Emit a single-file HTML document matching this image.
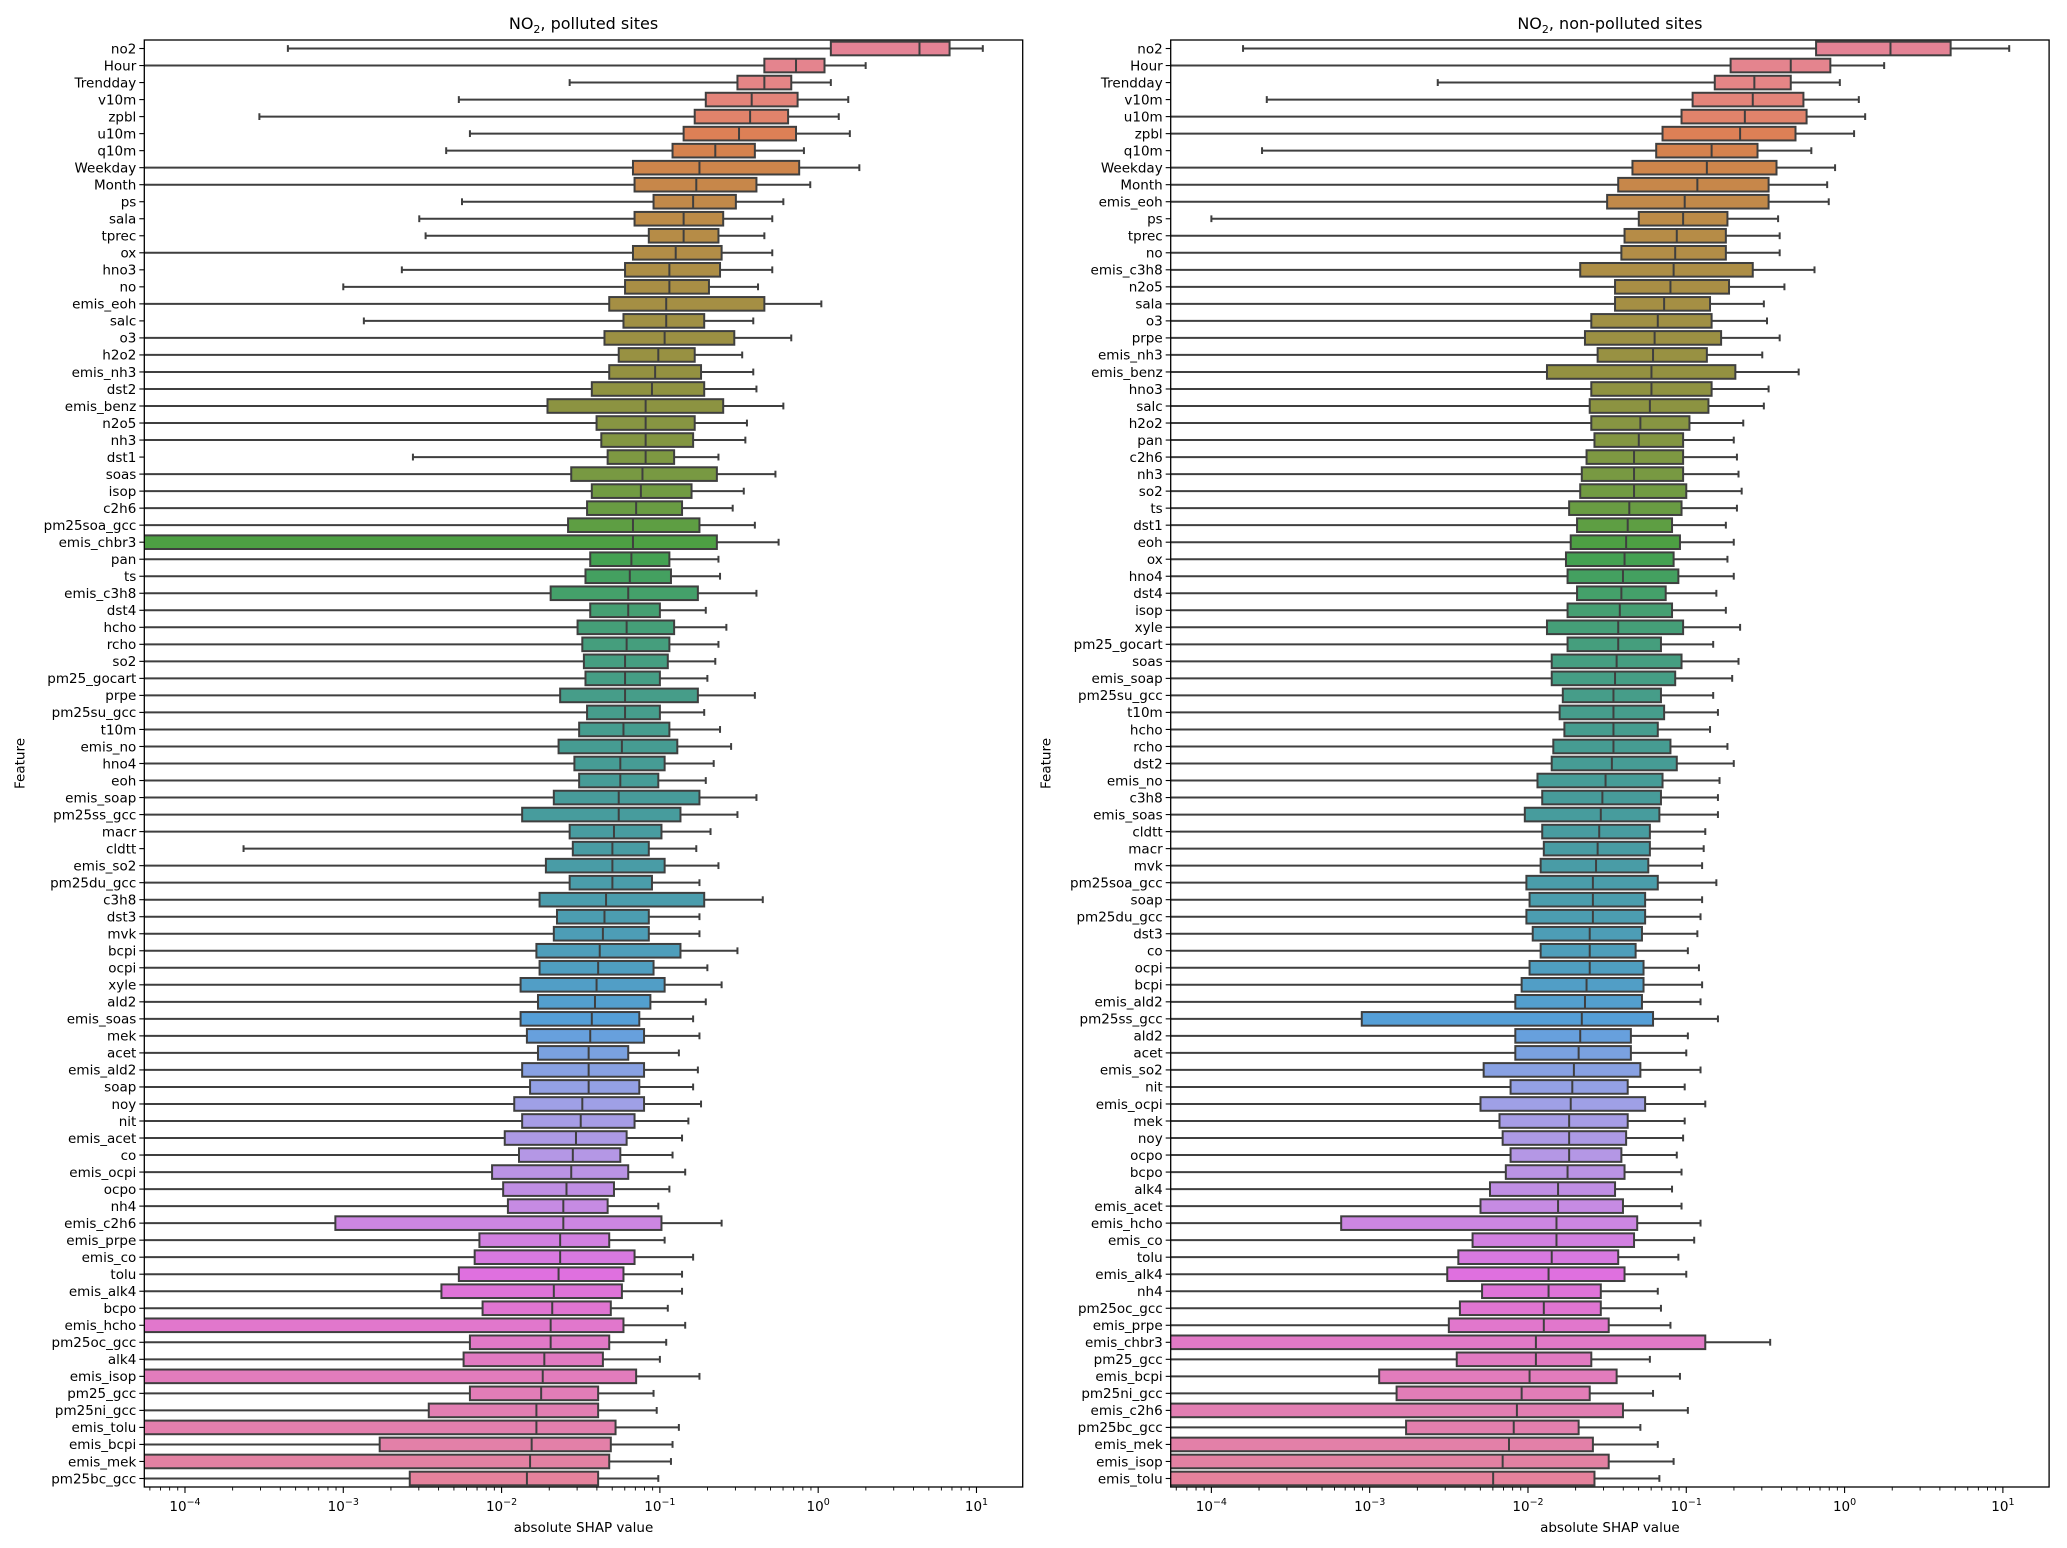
<!DOCTYPE html>
<html><head><meta charset="utf-8">
<style>
html,body{margin:0;padding:0;background:#fff;}
svg{display:block;font-family:"DejaVu Sans","Liberation Sans",sans-serif;}
</style></head>
<body>
<svg id="chart" width="2067" height="1548" viewBox="0 0 2067 1548" xmlns="http://www.w3.org/2000/svg">
<defs>
<clipPath id="clipL"><rect x="144.3" y="40" width="878.4" height="1447"/></clipPath>
<clipPath id="clipR"><rect x="1170.7" y="40" width="878.4" height="1447"/></clipPath>
</defs>
</svg>
<script>
// ---- Data (log10 of absolute SHAP value; -6 = whisker to 0, -8 = box starting at 0) ----
const polFeatures = ["no2","Hour","Trendday","v10m","zpbl","u10m","q10m","Weekday","Month","ps","sala","tprec","ox","hno3","no","emis_eoh","salc","o3","h2o2","emis_nh3","dst2","emis_benz","n2o5","nh3","dst1","soas","isop","c2h6","pm25soa_gcc","emis_chbr3","pan","ts","emis_c3h8","dst4","hcho","rcho","so2","pm25_gocart","prpe","pm25su_gcc","t10m","emis_no","hno4","eoh","emis_soap","pm25ss_gcc","macr","cldtt","emis_so2","pm25du_gcc","c3h8","dst3","mvk","bcpi","ocpi","xyle","ald2","emis_soas","mek","acet","emis_ald2","soap","noy","nit","emis_acet","co","emis_ocpi","ocpo","nh4","emis_c2h6","emis_prpe","emis_co","tolu","emis_alk4","bcpo","emis_hcho","pm25oc_gcc","alk4","emis_isop","pm25_gcc","pm25ni_gcc","emis_tolu","emis_bcpi","emis_mek","pm25bc_gcc"];
const polLow = [-3.35,-6,-1.57,-2.27,-3.53,-2.20,-2.35,-6,-6,-2.25,-2.52,-2.48,-6,-2.63,-3.00,-6,-2.87,-6,-6,-6,-6,-6,-6,-6,-2.56,-6,-6,-6,-6,-6,-6,-6,-6,-6,-6,-6,-6,-6,-6,-6,-6,-6,-6,-6,-6,-6,-6,-3.63,-6,-6,-6,-6,-6,-6,-6,-6,-6,-6,-6,-6,-6,-6,-6,-6,-6,-6,-6,-6,-6,-6,-6,-6,-6,-6,-6,-6,-6,-6,-6,-6,-6,-6,-6,-6,-6];
const polQ1 = [0.08,-0.34,-0.51,-0.71,-0.78,-0.85,-0.92,-1.17,-1.16,-1.04,-1.16,-1.07,-1.17,-1.22,-1.22,-1.32,-1.23,-1.35,-1.26,-1.32,-1.43,-1.71,-1.40,-1.37,-1.33,-1.56,-1.43,-1.46,-1.58,-8,-1.44,-1.47,-1.69,-1.44,-1.52,-1.49,-1.48,-1.47,-1.63,-1.46,-1.51,-1.64,-1.54,-1.51,-1.67,-1.87,-1.57,-1.55,-1.72,-1.57,-1.76,-1.65,-1.67,-1.78,-1.76,-1.88,-1.77,-1.88,-1.84,-1.77,-1.87,-1.82,-1.92,-1.87,-1.98,-1.89,-2.06,-1.99,-1.96,-3.05,-2.14,-2.17,-2.27,-2.38,-2.12,-8,-2.20,-2.24,-8,-2.20,-2.46,-8,-2.77,-8,-2.58];
const polMed = [0.64,-0.14,-0.34,-0.42,-0.43,-0.50,-0.65,-0.75,-0.77,-0.79,-0.85,-0.85,-0.90,-0.94,-0.94,-0.96,-0.96,-0.97,-1.01,-1.03,-1.05,-1.09,-1.09,-1.09,-1.09,-1.11,-1.12,-1.15,-1.17,-1.17,-1.18,-1.19,-1.20,-1.20,-1.21,-1.21,-1.22,-1.22,-1.22,-1.22,-1.23,-1.24,-1.25,-1.25,-1.26,-1.26,-1.29,-1.30,-1.30,-1.30,-1.34,-1.35,-1.36,-1.38,-1.39,-1.40,-1.41,-1.43,-1.44,-1.45,-1.45,-1.45,-1.49,-1.50,-1.53,-1.55,-1.56,-1.59,-1.61,-1.61,-1.63,-1.63,-1.64,-1.67,-1.68,-1.69,-1.69,-1.73,-1.74,-1.75,-1.78,-1.78,-1.81,-1.82,-1.84];
const polQ3 = [0.83,0.04,-0.17,-0.13,-0.19,-0.14,-0.40,-0.12,-0.39,-0.52,-0.60,-0.63,-0.61,-0.62,-0.69,-0.34,-0.72,-0.53,-0.78,-0.74,-0.72,-0.60,-0.78,-0.79,-0.91,-0.64,-0.80,-0.86,-0.75,-0.64,-0.94,-0.93,-0.76,-1.00,-0.91,-0.94,-0.95,-1.00,-0.76,-1.00,-0.94,-0.89,-0.97,-1.01,-0.75,-0.87,-0.99,-1.07,-0.97,-1.05,-0.72,-1.07,-1.07,-0.87,-1.04,-0.97,-1.06,-1.13,-1.10,-1.20,-1.10,-1.13,-1.10,-1.16,-1.21,-1.25,-1.20,-1.29,-1.33,-0.99,-1.32,-1.16,-1.23,-1.24,-1.31,-1.23,-1.32,-1.36,-1.15,-1.39,-1.39,-1.28,-1.31,-1.32,-1.39];
const polHigh = [1.04,0.30,0.08,0.19,0.13,0.20,-0.09,0.26,-0.05,-0.22,-0.29,-0.34,-0.29,-0.29,-0.38,0.02,-0.41,-0.17,-0.48,-0.41,-0.39,-0.22,-0.45,-0.46,-0.63,-0.27,-0.47,-0.54,-0.40,-0.25,-0.63,-0.62,-0.39,-0.71,-0.58,-0.63,-0.65,-0.70,-0.40,-0.72,-0.62,-0.55,-0.66,-0.71,-0.39,-0.51,-0.68,-0.77,-0.63,-0.75,-0.35,-0.75,-0.75,-0.51,-0.70,-0.61,-0.71,-0.79,-0.75,-0.88,-0.76,-0.79,-0.74,-0.82,-0.86,-0.92,-0.84,-0.94,-1.01,-0.61,-0.97,-0.79,-0.86,-0.86,-0.95,-0.84,-0.96,-1.00,-0.75,-1.04,-1.02,-0.88,-0.92,-0.93,-1.01];

const npFeatures = ["no2","Hour","Trendday","v10m","u10m","zpbl","q10m","Weekday","Month","emis_eoh","ps","tprec","no","emis_c3h8","n2o5","sala","o3","prpe","emis_nh3","emis_benz","hno3","salc","h2o2","pan","c2h6","nh3","so2","ts","dst1","eoh","ox","hno4","dst4","isop","xyle","pm25_gocart","soas","emis_soap","pm25su_gcc","t10m","hcho","rcho","dst2","emis_no","c3h8","emis_soas","cldtt","macr","mvk","pm25soa_gcc","soap","pm25du_gcc","dst3","co","ocpi","bcpi","emis_ald2","pm25ss_gcc","ald2","acet","emis_so2","nit","emis_ocpi","mek","noy","ocpo","bcpo","alk4","emis_acet","emis_hcho","emis_co","tolu","emis_alk4","nh4","pm25oc_gcc","emis_prpe","emis_chbr3","pm25_gcc","emis_bcpi","pm25ni_gcc","emis_c2h6","pm25bc_gcc","emis_mek","emis_isop","emis_tolu"];
const npLow = [-3.80,-6,-2.57,-3.65,-6,-6,-3.68,-6,-6,-6,-4.0,-6,-6,-6,-6,-6,-6,-6,-6,-6,-6,-6,-6,-6,-6,-6,-6,-6,-6,-6,-6,-6,-6,-6,-6,-6,-6,-6,-6,-6,-6,-6,-6,-6,-6,-6,-6,-6,-6,-6,-6,-6,-6,-6,-6,-6,-6,-6,-6,-6,-6,-6,-6,-6,-6,-6,-6,-6,-6,-6,-6,-6,-6,-6,-6,-6,-6,-6,-6,-6,-6,-6,-6,-6,-6];
const npQ1 = [-0.18,-0.72,-0.82,-0.96,-1.03,-1.15,-1.19,-1.34,-1.43,-1.50,-1.30,-1.39,-1.41,-1.67,-1.45,-1.45,-1.60,-1.64,-1.56,-1.88,-1.60,-1.61,-1.60,-1.58,-1.63,-1.66,-1.67,-1.74,-1.69,-1.73,-1.76,-1.75,-1.69,-1.75,-1.88,-1.75,-1.85,-1.85,-1.78,-1.80,-1.77,-1.84,-1.85,-1.94,-1.91,-2.02,-1.91,-1.90,-1.92,-2.01,-1.99,-2.01,-1.97,-1.92,-1.99,-2.04,-2.08,-3.05,-2.08,-2.08,-2.28,-2.11,-2.30,-2.18,-2.16,-2.11,-2.14,-2.24,-2.30,-3.18,-2.35,-2.44,-2.51,-2.29,-2.43,-2.50,-8,-2.45,-2.94,-2.83,-8,-2.77,-8,-8,-8];
const npMed = [0.29,-0.34,-0.57,-0.58,-0.63,-0.66,-0.84,-0.87,-0.93,-1.01,-1.02,-1.06,-1.07,-1.08,-1.10,-1.14,-1.18,-1.20,-1.21,-1.22,-1.22,-1.23,-1.29,-1.30,-1.33,-1.33,-1.33,-1.36,-1.37,-1.38,-1.39,-1.40,-1.41,-1.42,-1.43,-1.43,-1.44,-1.45,-1.46,-1.46,-1.46,-1.46,-1.47,-1.51,-1.53,-1.54,-1.55,-1.56,-1.57,-1.59,-1.59,-1.59,-1.61,-1.61,-1.61,-1.63,-1.64,-1.66,-1.67,-1.68,-1.71,-1.72,-1.73,-1.74,-1.74,-1.74,-1.75,-1.81,-1.81,-1.82,-1.82,-1.85,-1.87,-1.87,-1.90,-1.90,-1.95,-1.95,-1.99,-2.04,-2.07,-2.09,-2.12,-2.16,-2.22];
const npQ3 = [0.67,-0.09,-0.34,-0.26,-0.24,-0.31,-0.55,-0.43,-0.48,-0.48,-0.74,-0.75,-0.75,-0.58,-0.73,-0.85,-0.84,-0.78,-0.87,-0.69,-0.84,-0.86,-0.98,-1.02,-1.02,-1.02,-1.00,-1.03,-1.09,-1.04,-1.08,-1.05,-1.13,-1.09,-1.02,-1.16,-1.03,-1.07,-1.16,-1.14,-1.18,-1.10,-1.06,-1.15,-1.16,-1.17,-1.23,-1.23,-1.24,-1.18,-1.26,-1.26,-1.28,-1.32,-1.27,-1.27,-1.28,-1.21,-1.35,-1.35,-1.29,-1.37,-1.26,-1.37,-1.38,-1.41,-1.39,-1.45,-1.40,-1.31,-1.33,-1.43,-1.39,-1.54,-1.54,-1.49,-0.88,-1.60,-1.44,-1.61,-1.40,-1.68,-1.59,-1.49,-1.58];
const npHigh = [1.04,0.25,-0.03,0.09,0.13,0.06,-0.21,-0.06,-0.11,-0.10,-0.42,-0.41,-0.41,-0.19,-0.38,-0.51,-0.49,-0.41,-0.52,-0.29,-0.48,-0.51,-0.64,-0.70,-0.68,-0.67,-0.65,-0.68,-0.75,-0.70,-0.74,-0.70,-0.81,-0.75,-0.66,-0.83,-0.67,-0.71,-0.83,-0.80,-0.85,-0.74,-0.70,-0.79,-0.80,-0.80,-0.88,-0.89,-0.90,-0.81,-0.90,-0.91,-0.93,-0.99,-0.92,-0.90,-0.91,-0.80,-0.99,-1.00,-0.91,-1.01,-0.88,-1.01,-1.02,-1.06,-1.03,-1.09,-1.03,-0.91,-0.95,-1.05,-1.00,-1.18,-1.16,-1.10,-0.47,-1.23,-1.04,-1.21,-0.99,-1.29,-1.18,-1.08,-1.17];

const xTickExps = [-4,-3,-2,-1,0,1];

// ---- HUSL palette (seaborn husl_palette + desaturate) ----
const M=[[3.240969941904521,-1.537383177570093,-0.498610760293],[-0.96924363628087,1.87596750150772,0.041555057407175],[0.055630079696993,-0.20397695888897,1.056971514242878]];
function bounds(L){const r=[];const s1=Math.pow(L+16,3)/1560896;const s2=s1>0.0088564516?s1:L/903.2962962;
 for(const m of M){for(const t of [0,1]){const top1=(284517*m[0]-94839*m[2])*s2;const top2=(838422*m[2]+769860*m[1]+731718*m[0])*L*s2-769860*t*L;const bot=(632260*m[2]-126452*m[1])*s2+126452*t;r.push([top1/bot,top2/bot]);}}return r;}
function maxC(L,H){const hr=H/360*Math.PI*2;let mn=Infinity;for(const [s,i] of bounds(L)){const len=i/(Math.sin(hr)-s*Math.cos(hr));if(len>=0)mn=Math.min(mn,len);}return mn;}
function husl2rgb(H,S,L){const C=maxC(L,H)/100*S;const hr=H/360*Math.PI*2;const U=Math.cos(hr)*C,V=Math.sin(hr)*C;
 const vu=U/(13*L)+0.19783000664283,vv=V/(13*L)+0.46831999493879;const Y=L<=8?L/903.2962962:Math.pow((L+16)/116,3);
 const X=0-(9*Y*vu)/((vu-4)*vv-vu*vv);const Z=(9*Y-15*vv*Y-vv*X)/(3*vv);
 return M.map(m=>{const c=m[0]*X+m[1]*Y+m[2]*Z;const v=c<=0.0031308?12.92*c:1.055*Math.pow(c,1/2.4)-0.055;return Math.min(1,Math.max(0,v));});}
function rgb2hls(r,g,b){const mx=Math.max(r,g,b),mn=Math.min(r,g,b);const l=(mx+mn)/2;if(mx===mn)return[0,l,0];
 const s=l<=0.5?(mx-mn)/(mx+mn):(mx-mn)/(2-mx-mn);const rc=(mx-r)/(mx-mn),gc=(mx-g)/(mx-mn),bc=(mx-b)/(mx-mn);
 let h;if(r===mx)h=bc-gc;else if(g===mx)h=2+rc-bc;else h=4+gc-rc;h=((h/6)%1+1)%1;return[h,l,s];}
function hls2rgb(h,l,s){if(s===0)return[l,l,l];const m2=l<=0.5?l*(1+s):l+s-l*s;const m1=2*l-m2;
 const v=(hh)=>{hh=((hh%1)+1)%1;if(hh<1/6)return m1+(m2-m1)*hh*6;if(hh<0.5)return m2;if(hh<2/3)return m1+(m2-m1)*(2/3-hh)*6;return m1;};
 return[v(h+1/3),v(h),v(h-1/3)];}
function palette(n){const out=[];for(let i=0;i<n;i++){let h=(i/n+0.01)%1;const rgb=husl2rgb(h*359,0.9*99,0.65*99);
 const hls=rgb2hls(...rgb);let d=hls2rgb(hls[0],hls[1],hls[2]*0.72);
 out.push('rgb('+d.map(v=>Math.round(v*255)).join(',')+')');}return out;}

// ---- Drawing ----
const svg=document.getElementById('chart');
const NS='http://www.w3.org/2000/svg';
const XMIN=-4.257,XMAX=1.292,TOP=40,BOTTOM=1487;
function el(tag,attrs,parent){const e=document.createElementNS(NS,tag);for(const k in attrs)e.setAttribute(k,attrs[k]);(parent||svg).appendChild(e);return e;}

function drawPanel(left,feats,lo,q1,med,q3,hi,title,clip,pname){
 const W=878.4;
 const xs=v=>left+(v-XMIN)/(XMAX-XMIN)*W;
 const n=feats.length;const step=(BOTTOM-TOP)/n;
 const ys=i=>TOP+step*(i+0.5);
 const cols=palette(n);
 const LW=2;
 const g=el('g',{});
 
 
 const marks=el('g',{'clip-path':'url(#'+clip+')'},g);
 
 
 const bh=step*0.8, cap=step*0.4;
 for(let i=0;i<n;i++){
  const y=ys(i);
  const bg=el('g',{},marks);
  
  
  const xl=xs(lo[i]),x1=xs(q1[i]),xm=xs(med[i]),x3=xs(q3[i]),xh=xs(hi[i]);
  el('line',{x1:xl,x2:x1,y1:y,y2:y,stroke:'#3f3f3f','stroke-width':LW},bg);
  el('line',{x1:x3,x2:xh,y1:y,y2:y,stroke:'#3f3f3f','stroke-width':LW},bg);
  el('line',{x1:xl,x2:xl,y1:y-cap/2,y2:y+cap/2,stroke:'#3f3f3f','stroke-width':LW},bg);
  el('line',{x1:xh,x2:xh,y1:y-cap/2,y2:y+cap/2,stroke:'#3f3f3f','stroke-width':LW},bg);
  el('rect',{x:x1,y:y-bh/2,width:Math.max(0,x3-x1),height:bh,fill:cols[i],stroke:'#3f3f3f','stroke-width':LW},bg);
  el('line',{x1:xm,x2:xm,y1:y-bh/2,y2:y+bh/2,stroke:'#3f3f3f','stroke-width':LW},bg);
 }
 const fr=el('rect',{x:left,y:TOP,width:W,height:BOTTOM-TOP,fill:'none',stroke:'#000','stroke-width':1.3},g);
 
 
 const yt=el('g',{},g);
 
 
 for(let i=0;i<n;i++){
  const y=ys(i);
  el('line',{x1:left-5,x2:left,y1:y,y2:y,stroke:'#000','stroke-width':1.1},yt);
  const t=el('text',{x:left-8,y:y+4.8,'text-anchor':'end','font-size':'13.5px',fill:'#000'},yt);
  t.textContent=feats[i];
  
  
 }
 const xt=el('g',{},g);
 
 
 for(let d=-5;d<=1;d++){for(let k=2;k<=9;k++){const v=d+Math.log10(k);if(v<XMIN||v>XMAX)continue;
  el('line',{x1:xs(v),x2:xs(v),y1:BOTTOM,y2:BOTTOM+3.5,stroke:'#000','stroke-width':0.9},xt);}}
 for(const e of xTickExps){
  const x=xs(e);
  el('line',{x1:x,x2:x,y1:BOTTOM,y2:BOTTOM+6,stroke:'#000','stroke-width':1.1},xt);
  const t=el('text',{x:x,y:BOTTOM+24,'text-anchor':'middle','font-size':'13.5px',fill:'#000'},xt);
  
  
  const a=el('tspan',{},t);a.textContent='10';
  const b=el('tspan',{dy:-6,'font-size':'9.5px'},t);b.textContent=(e<0?'\u2212':'')+Math.abs(e);
 }
 const xl=el('text',{x:left+W/2,y:BOTTOM+45,'text-anchor':'middle','font-size':'13.5px',fill:'#000'},g);
 xl.textContent='absolute SHAP value';
 
 
 const yl=el('text',{x:0,y:0,'text-anchor':'middle','font-size':'13.5px',fill:'#000',transform:'translate('+(left-120)+','+((TOP+BOTTOM)/2)+') rotate(-90)'},g);
 yl.textContent='Feature';
 
 
 const tt=el('text',{x:left+W/2,y:29,'text-anchor':'middle','font-size':'16px',fill:'#000'},g);
 
 
 const s1=el('tspan',{},tt);s1.textContent='NO';
 const s2=el('tspan',{dy:4,'font-size':'11px'},tt);s2.textContent='2';
 const s3=el('tspan',{dy:-4},tt);s3.textContent=title;
}
drawPanel(144.3,polFeatures,polLow,polQ1,polMed,polQ3,polHigh,', polluted sites','clipL','polluted');
drawPanel(1170.7,npFeatures,npLow,npQ1,npMed,npQ3,npHigh,', non-polluted sites','clipR','non-polluted');
</script>
</body></html>
